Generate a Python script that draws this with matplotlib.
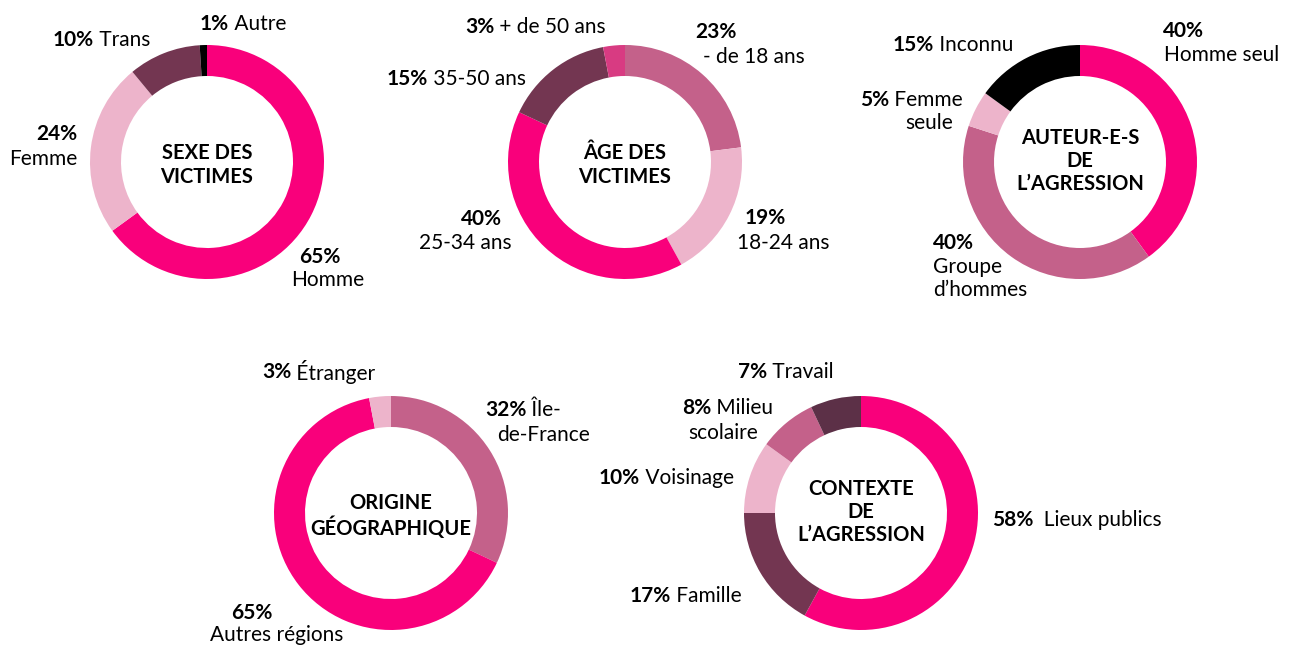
import matplotlib
matplotlib.use("Agg")
import matplotlib.pyplot as plt

plt.rcParams['font.family'] = ['Lato', 'DejaVu Sans']

# Données
sexe_labels = ['Homme', 'Femme', 'Trans', 'Autre']
sexe_values = [65, 24, 10, 1]

age_labels = ['- de 18 ans', '18-24 ans', '25-34 ans', '35-50 ans', '+ de 50 ans']
age_values = [23, 19, 40, 15, 3]

auteur_labels = ['Homme seul', 'Groupe\nd’hommes', 'Femme\nseule', 'Inconnu']
auteur_values = [40, 40, 5, 15]

origine_labels = ['Île-\nde-France', 'Autres régions', 'Étranger']
origine_values = [32, 65, 3]

contexte_labels = [' Lieux publics', 'Famille', 'Voisinage', 'Milieu\nscolaire', 'Travail']
contexte_values = [58, 17, 10, 8, 7]

# Couleurs
ROSE = '#f9007b'
PALE = '#edb4cb'
MAUVE = '#c4618a'
PRUNE = '#733651'
PRUNE2 = '#5c3047'
ROSE2 = '#d83b82'
NOIR = '#000000'

W, H = 1291, 648
R, RING = 117, 31
FS = 15

fig = plt.figure(figsize=(W / 100, H / 100), dpi=100)
ax = fig.add_axes([0, 0, 1, 1])


def donut(cx, cy, values, colors, title):
    ax.pie(values, colors=colors, center=(cx, H - cy), radius=R,
           startangle=90, counterclock=False,
           wedgeprops=dict(width=RING, linewidth=0))
    # les titres sur deux lignes sont un peu plus bas dans l'original
    dy = 3 if title.count('\n') == 1 else -1
    ax.text(cx, H - cy - dy, title, ha='center', va='center', fontsize=14.5,
            fontweight='bold', linespacing=1.2)


def bold(x, y, s, ha='left'):
    return ax.text(x, H - y, s, ha=ha, va='center', fontsize=FS, fontweight='bold')


def plain(x, y, s, ha='left'):
    return ax.text(x, H - y, s, ha=ha, va='center', fontsize=FS)


def inline(x, y, pct, s):
    t = bold(x, y, pct)
    ax.annotate(' ' + s, xy=(1, 0.5), xycoords=t, ha='left', va='center', fontsize=FS)


def pct(v):
    return f'{v}%'


# Sexe des victimes
donut(207, 162, sexe_values, [ROSE, PALE, PRUNE, NOIR], 'SEXE DES\nVICTIMES')
bold(299, 257, pct(sexe_values[0]))
plain(291, 280, sexe_labels[0])
bold(77, 134, pct(sexe_values[1]), ha='right')
plain(77, 159, sexe_labels[1], ha='right')
inline(53, 40, pct(sexe_values[2]), sexe_labels[2])
inline(200, 24, pct(sexe_values[3]), sexe_labels[3])

# Âge des victimes
donut(625, 162, age_values, [MAUVE, PALE, ROSE, PRUNE, ROSE2], 'ÂGE DES\nVICTIMES')
bold(695, 32, pct(age_values[0]))
plain(703, 57, age_labels[0])
bold(745, 218, pct(age_values[1]))
plain(737, 243, age_labels[1])
bold(502, 219, pct(age_values[2]), ha='right')
plain(512, 243, age_labels[2], ha='right')
inline(387, 79, pct(age_values[3]), age_labels[3])
inline(465, 27, pct(age_values[4]), age_labels[4])

# Auteur-e-s de l'agression
donut(1080, 162, auteur_values, [ROSE, MAUVE, PALE, NOIR], 'AUTEUR-E-S\nDE\nL’AGRESSION')
bold(1163, 31, pct(auteur_values[0]))
plain(1164, 55, auteur_labels[0])
bold(933, 243, pct(auteur_values[1]))
g1, g2 = auteur_labels[1].split('\n')
plain(933, 267, g1)
plain(933, 290, g2)
f1, f2 = auteur_labels[2].split('\n')
inline(860, 100, pct(auteur_values[2]), f1)
plain(953, 123, f2, ha='right')
inline(893, 45, pct(auteur_values[3]), auteur_labels[3])

# Origine géographique
donut(391, 513, origine_values, [MAUVE, ROSE, PALE], 'ORIGINE\nGÉOGRAPHIQUE')
i1, i2 = origine_labels[0].split('\n')
inline(485, 410, pct(origine_values[0]), i1)
plain(590, 435, i2, ha='right')
bold(272, 613, pct(origine_values[1]), ha='right')
plain(210, 635, origine_labels[1])
inline(262, 372, pct(origine_values[2]), origine_labels[2])

# Contexte de l'agression
donut(861, 513, contexte_values, [ROSE, PRUNE, PALE, MAUVE, PRUNE2], 'CONTEXTE\nDE\nL’AGRESSION')
inline(992, 520, pct(contexte_values[0]), contexte_labels[0])
inline(630, 596, pct(contexte_values[1]), contexte_labels[1])
inline(599, 478, pct(contexte_values[2]), contexte_labels[2])
m1, m2 = contexte_labels[3].split('\n')
inline(682, 408, pct(contexte_values[3]), m1)
plain(758, 433, m2, ha='right')
inline(738, 372, pct(contexte_values[4]), contexte_labels[4])

ax.set_xlim(0, W)
ax.set_ylim(0, H)
ax.set_aspect('equal')
ax.axis('off')

fig.savefig('out.png', dpi=100, facecolor='white')
